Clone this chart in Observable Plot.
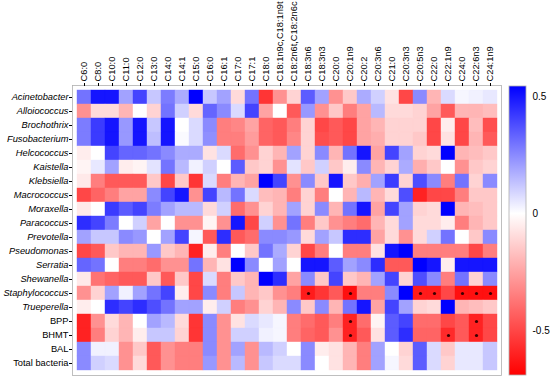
<!DOCTYPE html>
<html>
<head>
<meta charset="utf-8">
<script src="https://cdn.jsdelivr.net/npm/d3@7"></script>
<script src="https://cdn.jsdelivr.net/npm/@observablehq/plot@0.6"></script>
<style>
  html, body { margin: 0; padding: 0; background: #fff; }
  #wrap { position: relative; width: 550px; height: 378px; }
  #wrap svg { position: absolute; top: 0; }
</style>
</head>
<body>
<div id="wrap"></div>
<script>
// Fatty acids (columns)
const acids = ["C6:0","C8:0","C10:0","C11:0","C12:0","C13:0","C14:0","C14:1","C15:0","C16:0",
  "C16:1","C17:0","C17:1","C18:0","C18:1n9c,C18:1n9t","C18:2n6t,C18:2n6c","C18:3n6","C18:3n3","C20:0","C20:1n9",
  "C20:2","C20:3n6","C21:0","C20:3n3","C20:5n3","C22:0","C22:1n9","C24:0","C22:6n3","C24:1n9"];

// Bacteria / variables (rows)
const bacteria = ["Acinetobacter","Alloiococcus","Brochothrix","Fusobacterium","Helcococcus","Kaistella",
  "Klebsiella","Macrococcus","Moraxella","Paracoccus","Prevotella","Pseudomonas","Serratia","Shewanella",
  "Staphylococcus","Trueperella","BPP","BHMT","BAL","Total bacteria"];

const nonItalic = ["BPP","BHMT","BAL","Total bacteria"];

// Correlation coefficients, one row per entry of `bacteria`, in the order of `acids`
const corr = [
  [0.3,0.5,0.5,0.2,0.4,0.12,0.28,0.18,0.55,0.12,0.2,-0.1,0.3,-0.55,-0.3,-0.12,0.35,0.2,-0.3,-0.15,0.18,0.1,-0.08,-0.5,0.25,-0.2,0.08,0.02,0.03,0.05],
  [-0.3,-0.1,-0.1,-0.2,0,-0.12,0.3,0.1,-0.1,0.33,0.25,0.08,0.4,-0.25,0,-0.45,0.22,-0.3,-0.15,-0.35,-0.25,0.15,-0.1,-0.1,-0.12,-0.25,-0.45,-0.2,-0.2,-0.18],
  [0.28,0.42,0.5,0.22,0.5,0.12,0.5,0,0.08,0.25,-0.35,-0.33,-0.25,-0.42,-0.45,-0.35,-0.12,-0.5,-0.45,-0.5,-0.25,-0.2,-0.12,-0.12,-0.12,-0.5,-0.05,-0.5,-0.18,-0.48],
  [0.28,0.42,0.5,0.22,0.5,0.14,0.5,0.01,0.08,0.24,-0.35,-0.35,-0.27,-0.42,-0.45,-0.33,-0.12,-0.48,-0.45,-0.5,-0.25,-0.22,-0.12,-0.12,-0.15,-0.5,-0.08,-0.5,-0.2,-0.45],
  [-0.05,0,0.4,0.33,0.33,0.3,0.25,0.18,0.18,-0.08,0.08,-0.4,-0.3,-0.12,-0.2,0.2,-0.12,0.25,-0.2,0.3,0.5,-0.25,0.4,0.2,-0.12,-0.1,0.55,-0.2,-0.18,-0.15],
  [-0.03,0.05,0.2,-0.05,-0.03,0.06,0.3,0.15,0.03,0.1,0,0.35,-0.15,-0.12,-0.3,0.06,-0.15,0.1,-0.15,-0.05,0.25,-0.2,-0.12,0.18,-0.22,-0.15,0,-0.3,-0.15,-0.12],
  [-0.06,-0.35,-0.45,-0.45,-0.45,-0.15,-0.5,-0.15,-0.55,0.08,-0.35,-0.2,-0.25,0.55,0.4,-0.3,0.25,-0.15,0.5,-0.15,-0.22,0.2,0.42,-0.12,0.38,0.25,-0.35,0.3,-0.12,0.25],
  [-0.5,-0.42,-0.35,-0.25,-0.25,0.25,0.4,0.5,-0.3,0.4,0.15,0.3,0.08,-0.18,-0.2,-0.35,-0.12,-0.35,0,-0.2,0.15,-0.2,-0.1,0.38,-0.6,-0.5,-0.5,-0.35,-0.15,-0.15],
  [-0.06,0,0.42,0.35,0.4,0.28,0.2,0.15,0.15,-0.1,0.1,-0.4,-0.3,-0.12,-0.2,0.2,-0.12,0.25,-0.2,0.3,0.5,-0.25,0.4,0.2,-0.12,-0.1,0.55,-0.2,-0.18,-0.15],
  [0.45,0.4,0.28,0,0.1,-0.25,0,-0.3,-0.3,-0.03,-0.3,0.5,-0.5,0.1,-0.3,0.3,-0.35,-0.15,-0.3,-0.35,-0.4,-0.2,-0.1,0.2,-0.1,-0.1,-0.05,-0.35,-0.2,-0.15],
  [0.2,0.12,0.12,0.25,0.22,0,0.2,0.4,0.02,-0.45,0.45,-0.45,-0.4,0.25,0.25,0.22,-0.1,0.2,0.12,0.45,0.45,-0.25,-0.1,-0.3,-0.1,0.1,0.3,0,-0.15,0.25],
  [-0.5,-0.45,-0.15,-0.2,-0.2,0.22,-0.15,-0.2,-0.6,-0.05,-0.35,0,-0.15,0.3,0.18,-0.12,-0.5,-0.35,0,-0.35,-0.35,-0.08,0.5,0.55,-0.35,-0.35,-0.35,-0.35,-0.5,-0.35],
  [0.33,0.3,0,-0.35,-0.35,-0.4,-0.3,-0.3,0.3,-0.2,-0.08,0.55,0.25,0,0.2,0,0.5,0.5,0.35,0.2,0.25,0.45,-0.45,-0.45,0.55,0.5,-0.05,0.5,0.5,0.5],
  [-0.06,-0.38,-0.42,-0.45,-0.45,-0.15,-0.45,-0.15,-0.5,0.08,-0.35,-0.15,-0.2,0.55,0.45,-0.25,0.25,-0.15,0.4,-0.15,-0.2,0.2,0.4,-0.12,0.38,0.25,-0.35,0.3,-0.12,0.25],
  [-0.3,-0.12,0.2,0.03,0.2,0.3,0.4,-0.05,-0.5,0.25,-0.35,0.12,-0.2,-0.15,-0.3,-0.35,-0.62,-0.55,-0.45,-0.65,-0.35,-0.35,0.25,0.55,-0.62,-0.62,-0.5,-0.65,-0.65,-0.65],
  [-0.05,0,0.45,0.4,0.45,0.38,0.3,0.2,0.2,-0.05,0.1,-0.35,-0.3,-0.12,-0.2,0.25,-0.15,0.25,-0.2,0.3,0.5,-0.25,0.4,0.2,-0.12,-0.1,0.55,-0.2,-0.18,-0.15],
  [-0.6,-0.3,-0.1,-0.2,0,0.2,0.15,-0.1,-0.55,0.25,-0.3,-0.08,0.08,0.05,0.02,-0.35,-0.4,-0.45,-0.35,-0.6,-0.4,-0.03,0.35,0.4,-0.4,-0.4,-0.5,-0.45,-0.6,-0.5],
  [-0.6,-0.35,-0.12,-0.2,-0.05,0.12,0.12,-0.12,-0.55,0.25,-0.3,0.1,0.1,0.03,0.02,-0.35,-0.42,-0.45,-0.3,-0.6,-0.45,-0.08,0.35,0.45,-0.42,-0.42,-0.58,-0.45,-0.6,-0.5],
  [0.25,0.03,0.03,-0.3,-0.15,-0.45,-0.3,-0.35,-0.35,0.25,-0.3,0.2,-0.3,0.15,0.1,0,0.25,-0.05,-0.08,-0.2,-0.35,0.2,0,-0.12,0.35,0.08,-0.15,0.05,0.05,0.12],
  [0.25,0.1,0.08,-0.3,-0.1,-0.45,-0.3,-0.35,-0.35,0.22,-0.3,0.15,-0.3,0.12,0.08,0.08,0.25,0,-0.08,-0.2,-0.35,0.2,0.02,-0.1,0.35,0.08,-0.12,0.05,0.05,0.12]
];

// Significant cells marked with an asterisk
const starRows = ["Staphylococcus","Staphylococcus","Staphylococcus","Staphylococcus","Staphylococcus","Staphylococcus","Staphylococcus",
  "BPP","BPP","BHMT","BHMT","BHMT"];
const starCols = ["C18:3n6","C20:1n9","C20:5n3","C22:0","C24:0","C22:6n3","C24:1n9",
  "C20:1n9","C22:6n3","C20:1n9","C22:1n9","C22:6n3"];

// Colour bar
const colorDomain = [-0.693, 0, 0.546];
const colorRange = ["#ff0000", "#ffffff", "#0000ff"];
const barTicks = [-0.5, 0, 0.5];

const cells = [];
bacteria.forEach((b, i) => acids.forEach((a, j) => cells.push({bacterium: b, acid: a, r: corr[i][j]})));
const stars = starRows.map((b, i) => ({bacterium: b, acid: starCols[i]}));

const font = "'Liberation Sans', Arial, sans-serif";

const chart = Plot.plot({
  width: 550, height: 378,
  marginLeft: 72, marginRight: 49, marginTop: 85, marginBottom: 3,
  style: {fontFamily: font, fontSize: "9.3px", background: "transparent"},
  x: {domain: acids, padding: 0, label: null},
  y: {domain: bacteria, padding: 0, label: null},
  color: {type: "linear", domain: colorDomain, range: colorRange, interpolate: "rgb"},
  marks: [
    Plot.cell(cells, {x: "acid", y: "bacterium", fill: "r", stroke: "r", strokeWidth: 0.4}),
    Plot.dot(stars, {x: "acid", y: "bacterium", r: 1.6, fill: "#3a0000", stroke: "none"}),
    Plot.frame({stroke: "#b0b0b0", strokeWidth: 0.8}),
    Plot.axisX({anchor: "top", tickRotate: -90, tickSize: 3, tickPadding: 1, label: null}),
    Plot.axisY({anchor: "left", tickSize: 3, tickPadding: 1, label: null})
  ]
});
chart.style.left = "0px";
document.getElementById("wrap").appendChild(chart);

d3.select(chart).selectAll('g[aria-label="y-axis tick label"] text')
  .style("font-style", function() { return nonItalic.includes(this.textContent) ? "normal" : "italic"; });

const bar = Plot.plot({
  width: 50, height: 378,
  marginLeft: 9, marginRight: 24, marginTop: 86, marginBottom: 3,
  style: {fontFamily: font, fontSize: "10px", background: "transparent"},
  x: {domain: [0, 1], axis: null},
  y: {domain: [colorDomain[0], colorDomain[2]], label: null, axis: null},
  marks: [
    Plot.rect([colorDomain], {x1: 0, x2: 1, y1: d => d[0], y2: d => d[2], fill: "url(#cbgrad)", stroke: "#b0b0b0", strokeWidth: 0.8}),
    Plot.axisY({anchor: "right", ticks: barTicks, tickSize: 0, tickPadding: 6, tickFormat: d => String(d), label: null})
  ]
});
bar.style.left = "500px";
document.getElementById("wrap").appendChild(bar);

const span = colorDomain[2] - colorDomain[0];
const grad = d3.select(bar).insert("defs", ":first-child")
  .append("linearGradient").attr("id", "cbgrad")
  .attr("x1", 0).attr("y1", 1).attr("x2", 0).attr("y2", 0);
colorDomain.forEach((v, i) => {
  grad.append("stop").attr("offset", (v - colorDomain[0]) / span).attr("stop-color", colorRange[i]);
});
</script>
</body>
</html>
